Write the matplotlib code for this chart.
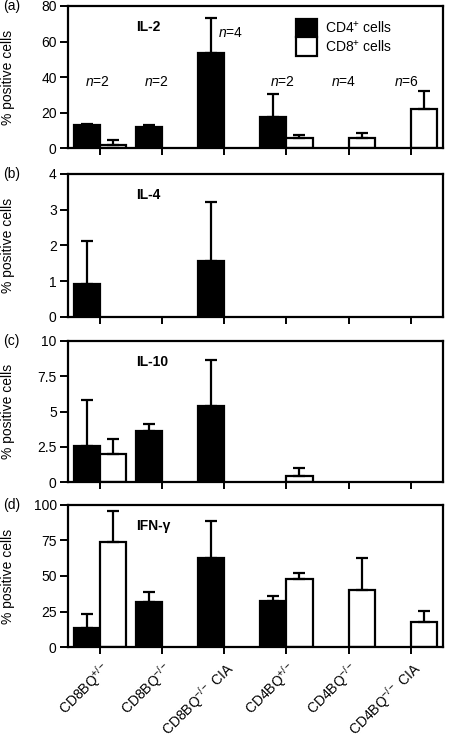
import numpy as np
import matplotlib
matplotlib.use("Agg")
import matplotlib.pyplot as plt
from matplotlib.patches import Patch

plt.rcParams['font.family'] = ['Liberation Sans', 'DejaVu Sans']
plt.rcParams['mathtext.fontset'] = 'custom'
plt.rcParams['mathtext.rm'] = 'Liberation Sans'
plt.rcParams['mathtext.it'] = 'Liberation Sans:italic'
plt.rcParams['mathtext.bf'] = 'Liberation Sans:bold'

# group labels
groups = ['CD8BQ$^{+/-}$', 'CD8BQ$^{-/-}$', 'CD8BQ$^{-/-}$ CIA',
          'CD4BQ$^{+/-}$', 'CD4BQ$^{-/-}$', 'CD4BQ$^{-/-}$ CIA']

# IL-2
il2_cd4 = [13.0, 12.1, 53.5, 17.6, 0, 0]
il2_cd4_err = [0.8, 0.8, 20.0, 13.2, 0, 0]
il2_cd8 = [2.1, 0, 0, 5.7, 5.7, 21.9]
il2_cd8_err = [2.8, 0, 0, 1.9, 3.0, 10.2]
il2_n = ['$n$=2', '$n$=2', '$n$=4', '$n$=2', '$n$=4', '$n$=6']
il2_n_y = [37, 37, 65, 37, 37, 37]

# IL-4
il4_cd4 = [0.91, 0, 1.55, 0, 0, 0]
il4_cd4_err = [1.2, 0, 1.66, 0, 0, 0]
il4_cd8 = [0, 0, 0, 0, 0, 0]
il4_cd8_err = [0, 0, 0, 0, 0, 0]

# IL-10
il10_cd4 = [2.55, 3.66, 5.37, 0, 0, 0]
il10_cd4_err = [3.29, 0.48, 3.26, 0, 0, 0]
il10_cd8 = [2.0, 0, 0, 0.47, 0, 0]
il10_cd8_err = [1.07, 0, 0, 0.55, 0, 0]

# IFN-gamma
ifn_cd4 = [13.6, 32.0, 62.8, 32.5, 0, 0]
ifn_cd4_err = [9.9, 6.4, 26.1, 3.3, 0, 0]
ifn_cd8 = [74.1, 0, 0, 48.2, 40.5, 17.6]
ifn_cd8_err = [21.7, 0, 0, 4.0, 22.3, 7.8]

panels = [
    ('(a)', 'IL-2', il2_cd4, il2_cd4_err, il2_cd8, il2_cd8_err, 80, [0, 20, 40, 60, 80], ['0', '20', '40', '60', '80']),
    ('(b)', 'IL-4', il4_cd4, il4_cd4_err, il4_cd8, il4_cd8_err, 4, [0, 1, 2, 3, 4], ['0', '1', '2', '3', '4']),
    ('(c)', 'IL-10', il10_cd4, il10_cd4_err, il10_cd8, il10_cd8_err, 10, [0, 2.5, 5, 7.5, 10], ['0', '2.5', '5', '7.5', '10']),
    ('(d)', 'IFN-γ', ifn_cd4, ifn_cd4_err, ifn_cd8, ifn_cd8_err, 100, [0, 25, 50, 75, 100], ['0', '25', '50', '75', '100']),
]

# axes boxes (figure fraction): bottom, top
boxes = [(0.802, 0.992), (0.577, 0.768), (0.356, 0.545), (0.136, 0.326)]

fig = plt.figure(figsize=(4.52, 7.49), dpi=100)
x = np.arange(len(groups))
w = 0.42
lw = 1.6

for i, (tag, name, c4, e4, c8, e8, ymax, yt, ytl) in enumerate(panels):
    b, t = boxes[i]
    ax = fig.add_axes([0.150, b, 0.830, t - b])
    c4 = np.array(c4); c8 = np.array(c8)
    m4 = c4 > 0
    m8 = c8 > 0
    ax.bar(x[m4] - w / 2, c4[m4], w, color='black', edgecolor='black', linewidth=lw,
           yerr=[np.zeros(m4.sum()), np.array(e4)[m4]],
           error_kw=dict(ecolor='black', elinewidth=lw, capsize=4, capthick=lw), zorder=2)
    ax.bar(x[m8] + w / 2, c8[m8], w, color='white', edgecolor='black', linewidth=lw,
           yerr=[np.zeros(m8.sum()), np.array(e8)[m8]],
           error_kw=dict(ecolor='black', elinewidth=lw, capsize=4, capthick=lw), zorder=2)
    ax.set_xlim(-0.52, 5.52)
    ax.set_ylim(0, ymax)
    ax.set_yticks(yt)
    ax.set_yticklabels(ytl)
    ax.set_xticks(x)
    if i == 3:
        ax.set_xticklabels(groups, rotation=45, ha='right', rotation_mode='anchor')
    else:
        ax.set_xticklabels([])
    for s in ax.spines.values():
        s.set_linewidth(1.6)
    ax.tick_params(axis='y', length=6, width=1.4, labelsize=10, pad=2)
    ax.tick_params(axis='x', length=5, width=1.4, labelsize=10, pad=3)
    ax.set_ylabel('% positive cells', fontsize=10)
    ax.yaxis.set_label_coords(-0.14, 0.5)
    ax.text(0.183, 0.85, name, transform=ax.transAxes, fontsize=10,
            fontweight='bold', ha='left', va='center')
    fig.text(0.006, t, tag, fontsize=10, ha='left', va='center')

    if i == 0:
        offs = [-0.05, -0.1, 0.1, -0.07, -0.08, -0.06]
        for j in range(len(groups)):
            ax.text(x[j] + offs[j], il2_n_y[j], il2_n[j], fontsize=10,
                    ha='center', va='center')
        handles = [Patch(facecolor='black', edgecolor='black', linewidth=1.6),
                   Patch(facecolor='white', edgecolor='black', linewidth=1.6)]
        ax.legend(handles, ['CD4$^{+}$ cells', 'CD8$^{+}$ cells'],
                  loc='upper left', bbox_to_anchor=(0.59, 0.96), frameon=False,
                  handlelength=1.5, handleheight=1.7, labelspacing=0.0,
                  handletextpad=0.6, borderpad=0, fontsize=10)

fig.savefig('out.png', dpi=100)
